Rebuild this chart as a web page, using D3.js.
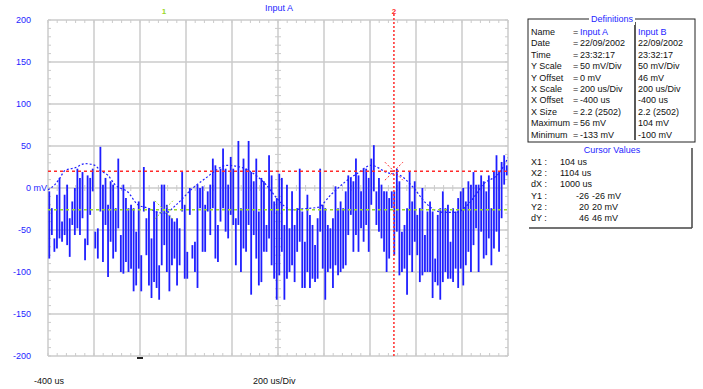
<!DOCTYPE html>
<html>
<head>
<meta charset="utf-8">
<script src="https://cdn.jsdelivr.net/npm/d3@7"></script>
<style>
  html, body { margin: 0; padding: 0; background: #fff; }
  svg { display: block; font-family: "Liberation Sans", Arial, sans-serif; }
</style>
</head>
<body>
<svg id="chart" width="703" height="389"></svg>
<script>
// Timebase and vertical settings of the capture
const xOffsetUs = -400;
const usPerDiv = 200;
const xDivisions = 10;
const mvPerDiv = 50;
const yDivisions = 8;
const yTickValues = [200, 150, 100, 50, 0, -50, -100, -150, -200];

// Input A, decimated display: highest and lowest sample in each time bucket (mV)
const inputABucketMax = [
  -4, -24, -60, -8, 12, -40, -8, 4, -36, -16, 0, 23, 12, 19, -60, 15, 12, 23, -52, -48,
  49, 4, 12, -20, 8, 4, -24, 35, -56, 4, -12, -24, -20, -24, -52, -16, -80, 25, -36, -24,
  -60, -16, -28, -92, 4,
  4, -20, -32, -36, -40, -36, -48, 19, -20, -76, 0, -68, -64, 4, 0, 2, -20, -4, 4, 35,
  27, -44, 23, 47, 23, 4, 37, 23, -36, 56, -24, 35, 23, 56, 19, 8, 35, -28, 12, 8,
  -44, 39, 15, -16, -12,
  17, 12, -44, 4, -48, -4, -44, -24, 23, -28, -64, -8, -32, -44, -68, -36, 23, -20, -24, -44,
  -48, -36, 2, -24, -16, -24, -4, 15, 12, 8, 35, 15, -4, 23, 23, 12, 35, 51, -4, 12,
  4, -4, -4, -12, -4,
  -4, 23, 8, -52, -44, -24, 19, -16, 8, -32, -24, 0, -56, -28, -16, -28, -84, -32, -24, -4,
  -24, -20, -64, -24, -28, -12, -4, 0, -16, 8, 4, 19, 4, 4, 15, 8, -4, 15, -24, 19,
  39, 19, 31, 39, 27
];
const inputABucketMin = [
  -84, -56, -76, -72, -60, -64, -56, -68, -82, -44, -56, -48, -56, -36, -86, -68, -32, -4, -72, -84,
  -28, -88, -44, -106, -64, -84, -76, -48, -100, -102, -88, -100, -96, -123, -116, -96, -123, -28, -80, -116,
  -131, -112, -119, -133, -92,
  -68, -100, -123, -92, -84, -116, -92, -28, -108, -108, -32, -84, -100, -119, -24, -76, -76, -28, -56, -24,
  -84, -88, -40, -24, -52, -60, -32, -44, -92, -44, -100, -72, -76, -44, -127, -56, -84, -116, -112, -76,
  -76, -60, -92, -108, -133,
  -104, -76, -133, -108, -100, -92, -112, -76, -64, -119, -119, -100, -119, -108, -112, -108, -52, -96, -133, -100,
  -96, -119, -92, -104, -100, -96, -92, -56, -32, -76, -56, -76, -48, -64, -44, -76, -20, -4, -44, -52,
  -60, -76, -100, -84, -24,
  -80, -52, -104, -100, -96, -127, -80, -100, -64, -80, -112, -104, -100, -100, -100, -131, -112, -116, -133, -112,
  -100, -108, -108, -112, -96, -119, -96, -116, -92, -76, -100, -68, -48, -100, -52, -84, -80, -60, -92, -72,
  -52, -76, -36, 4, 15
];

// Slow component of Input A (time in us, level in mV)
const avgTimes = [
  -400, -370, -348, -326, -283, -239, -196, -174, -139, -109, -52, -9, 35, 78, 109, 157,
  230, 287, 330, 374, 448, 504, 548, 591, 630, 661, 696, 774, 830, 891, 948, 1004,
  1078, 1130, 1187, 1243, 1317, 1374, 1435, 1491, 1565, 1600
];
const avgValues = [
  -2, 4, 12, 21, 24, 29, 27, 21, 15, 4, -5, -20, -24, -29, -30, -20,
  0, 12, 21, 27, 24, 15, 4, -11, -22, -26, -25, -23, -8, 7, 18, 27,
  18, 15, 1, -18, -29, -29, -17, 4, 19, 36
];

// Cursor positions: times (us) and levels (mV)
const cursorTimes = [104, 1104];
const cursorLevels = [-26, 20];
const triggerTime = 0;

// Channel details table
const infoLabels = ["Name", "Date", "Time", "Y Scale", "Y Offset", "X Scale", "X Offset", "X Size", "Maximum", "Minimum"];
const infoInputA = ["Input A", "22/09/2002", "23:32:17", "50 mV/Div", "0 mV", "200 us/Div", "-400 us", "2.2 (2502)", "56 mV", "-133 mV"];
const infoInputB = ["Input B", "22/09/2002", "23:32:17", "50 mV/Div", "46 mV", "200 us/Div", "-400 us", "2.2 (2502)", "104 mV", "-100 mV"];

// Cursor readout table
const cursorLabels = ["X1 :", "X2 :", "dX :", "Y1 :", "Y2 :", "dY :"];
const cursorColA = ["104 us", "1104 us", "1000 us", "-26", "20", "46"];
const cursorColB = ["", "", "", "-26 mV", "20 mV", "46 mV"];

// ---------------------------------------------------------------------
const svg = d3.select("#chart");
const plot = { left: 48, right: 508, top: 20, bottom: 356 };

const x = d3.scaleLinear()
  .domain([xOffsetUs, xOffsetUs + usPerDiv * xDivisions])
  .range([plot.left, plot.right]);
const y = d3.scaleLinear()
  .domain([-mvPerDiv * yDivisions / 2, mvPerDiv * yDivisions / 2])
  .range([plot.bottom, plot.top]);

const gridColor = "#cbcbcb";
const blue = "#1e1eff";

// Graticule
const grid = svg.append("g");
const xMajor = d3.range(0, xDivisions + 1).map(i => xOffsetUs + i * usPerDiv);
const yMajor = d3.range(0, yDivisions + 1).map(i => -mvPerDiv * yDivisions / 2 + i * mvPerDiv);
grid.selectAll("line.vx").data(xMajor).join("line")
  .attr("x1", d => x(d)).attr("x2", d => x(d))
  .attr("y1", plot.top).attr("y2", plot.bottom)
  .attr("stroke", gridColor).attr("stroke-width", 1.5);
grid.selectAll("line.hy").data(yMajor).join("line")
  .attr("x1", plot.left).attr("x2", plot.right)
  .attr("y1", d => y(d)).attr("y2", d => y(d))
  .attr("stroke", gridColor).attr("stroke-width", 1.5);

// Minor ticks on the frame and on the centre axes
const xMinor = d3.range(0, xDivisions * 5 + 1).map(i => xOffsetUs + i * usPerDiv / 5);
const yMinor = d3.range(0, yDivisions * 5 + 1).map(i => -mvPerDiv * yDivisions / 2 + i * mvPerDiv / 5);
const xCentre = x(xOffsetUs + usPerDiv * xDivisions / 2);
const yCentre = y(0);
const tickLen = 3;
const minor = svg.append("g").attr("stroke", gridColor).attr("stroke-width", 1);
[[plot.top, 1], [plot.bottom, -1]].forEach(([yy, dir]) => {
  minor.selectAll(null).data(xMinor).join("line")
    .attr("x1", d => x(d)).attr("x2", d => x(d))
    .attr("y1", yy).attr("y2", yy + dir * tickLen);
});
minor.selectAll(null).data(xMinor).join("line")
  .attr("x1", d => x(d)).attr("x2", d => x(d))
  .attr("y1", yCentre - tickLen).attr("y2", yCentre + tickLen);
[[plot.left, 1], [plot.right, -1]].forEach(([xx, dir]) => {
  minor.selectAll(null).data(yMinor).join("line")
    .attr("x1", xx).attr("x2", xx + dir * tickLen)
    .attr("y1", d => y(d)).attr("y2", d => y(d));
});
minor.selectAll(null).data(yMinor).join("line")
  .attr("x1", xCentre - tickLen).attr("x2", xCentre + tickLen)
  .attr("y1", d => y(d)).attr("y2", d => y(d));

// Y tick labels
svg.append("g").selectAll("text").data(yTickValues).join("text")
  .attr("x", d => d === 0 ? 26 : 31)
  .attr("y", d => y(d) + 3)
  .attr("text-anchor", d => d === 0 ? "start" : "end")
  .attr("fill", blue).attr("font-size", 9)
  .text(d => d === 0 ? "0 mV" : d);

// X captions
svg.append("text").attr("x", 34).attr("y", 384).attr("font-size", 9).attr("fill", "#111")
  .text(`${xOffsetUs} us`);
svg.append("text").attr("x", 253).attr("y", 384).attr("font-size", 9).attr("fill", "#111")
  .text(`${usPerDiv} us/Div`);

// Trigger marker
svg.append("rect").attr("x", x(triggerTime) - 3).attr("y", plot.bottom + 1)
  .attr("width", 6).attr("height", 2).attr("fill", "#222");

// Title
svg.append("text").attr("x", 279).attr("y", 11).attr("text-anchor", "middle")
  .attr("font-size", 9).attr("fill", blue).text(infoInputA[0]);

// Trace: one vertical min/max bar per time bucket
const bucketUs = usPerDiv * xDivisions / inputABucketMax.length;
const buckets = inputABucketMax.map((hi, i) => ({
  t: xOffsetUs + (i + 0.5) * bucketUs, hi, lo: inputABucketMin[i]
}));
svg.append("clipPath").attr("id", "plotClip").append("rect")
  .attr("x", plot.left).attr("y", plot.top)
  .attr("width", plot.right - plot.left).attr("height", plot.bottom - plot.top);
const traceLayer = svg.append("g").attr("clip-path", "url(#plotClip)");
traceLayer.append("g").selectAll("line").data(buckets).join("line")
  .attr("x1", d => x(d.t)).attr("x2", d => x(d.t))
  .attr("y1", d => y(d.hi)).attr("y2", d => y(d.lo))
  .attr("stroke", blue).attr("stroke-width", 1.8);

traceLayer.append("path").datum(avgTimes.map((t, i) => ({ t, v: avgValues[i] })))
  .attr("fill", "none").attr("stroke", blue).attr("stroke-width", 1.2)
  .attr("stroke-dasharray", "2,2")
  .attr("d", d3.line().curve(d3.curveMonotoneX).x(d => x(d.t)).y(d => y(d.v)));

// Cursors
const cursorColors = ["#9ad82a", "#ff2a2a"];
const cur = svg.append("g");
cursorLevels.forEach((lv, i) => {
  cur.append("line")
    .attr("x1", plot.left).attr("x2", plot.right)
    .attr("y1", y(lv)).attr("y2", y(lv))
    .attr("stroke", cursorColors[i]).attr("stroke-width", 1.5)
    .attr("stroke-dasharray", "3,3");
});
cur.append("line")
  .attr("x1", x(cursorTimes[1])).attr("x2", x(cursorTimes[1]))
  .attr("y1", 14).attr("y2", plot.bottom)
  .attr("stroke", cursorColors[1]).attr("stroke-width", 1.5)
  .attr("stroke-dasharray", "2,2");
cursorTimes.forEach((t, i) => {
  const cx = x(t), cy = y(cursorLevels[i]), r = 9;
  [[-1, -1, 1, 1], [-1, 1, 1, -1]].forEach(([a, b, c, d]) => {
    cur.append("line")
      .attr("x1", cx + a * r).attr("y1", cy + b * r)
      .attr("x2", cx + c * r).attr("y2", cy + d * r)
      .attr("stroke", cursorColors[i]).attr("stroke-width", 1)
      .attr("stroke-dasharray", "2,2");
  });
  cur.append("text").attr("x", cx).attr("y", 14).attr("text-anchor", "middle")
    .attr("font-size", 8).attr("font-weight", "bold").attr("fill", cursorColors[i])
    .text(i + 1);
});

// Channel details box
const box = svg.append("g").attr("font-size", 9).attr("fill", "#111");
const bx = 528, bw = 167, by = 19, bh = 123;
box.append("rect").attr("x", bx).attr("y", by).attr("width", bw).attr("height", bh)
  .attr("fill", "none").attr("stroke", "#222").attr("stroke-width", 1);
box.append("line").attr("x1", 635).attr("x2", 635).attr("y1", by + 3).attr("y2", by + bh - 2)
  .attr("stroke", "#222").attr("stroke-width", 1.5);
box.append("rect").attr("x", 589).attr("y", by - 6).attr("width", 46).attr("height", 12).attr("fill", "#fff");
box.append("text").attr("x", 612).attr("y", by + 3).attr("text-anchor", "middle")
  .attr("fill", blue).text("Definitions");
infoLabels.forEach((lab, i) => {
  const ty = 35 + i * 11.4;
  box.append("text").attr("x", 531).attr("y", ty).text(lab);
  box.append("text").attr("x", 573).attr("y", ty).text("=");
  box.append("text").attr("x", 580).attr("y", ty)
    .attr("fill", i === 0 ? blue : "#111").text(infoInputA[i]);
  box.append("text").attr("x", 638).attr("y", ty)
    .attr("fill", i === 0 ? blue : "#111").text(infoInputB[i]);
});

// Cursor readout box
const cb = svg.append("g").attr("font-size", 9).attr("fill", "#111");
cb.append("line").attr("x1", 692).attr("x2", 692).attr("y1", 148).attr("y2", 228)
  .attr("stroke", "#444").attr("stroke-width", 1.5);
cb.append("line").attr("x1", 529).attr("x2", 692).attr("y1", 228).attr("y2", 228)
  .attr("stroke", "#444").attr("stroke-width", 1.5);
cb.append("text").attr("x", 612).attr("y", 153).attr("text-anchor", "middle")
  .attr("fill", blue).text("Cursor Values");
cursorLabels.forEach((lab, i) => {
  const ty = 165 + i * 11.2;
  cb.append("text").attr("x", 531).attr("y", ty).text(lab);
  if (i < 3) {
    cb.append("text").attr("x", 560).attr("y", ty).text(cursorColA[i]);
  } else {
    cb.append("text").attr("x", 589).attr("y", ty).attr("text-anchor", "end").text(cursorColA[i]);
    cb.append("text").attr("x", 592).attr("y", ty).text(cursorColB[i]);
  }
});
</script>
</body>
</html>
